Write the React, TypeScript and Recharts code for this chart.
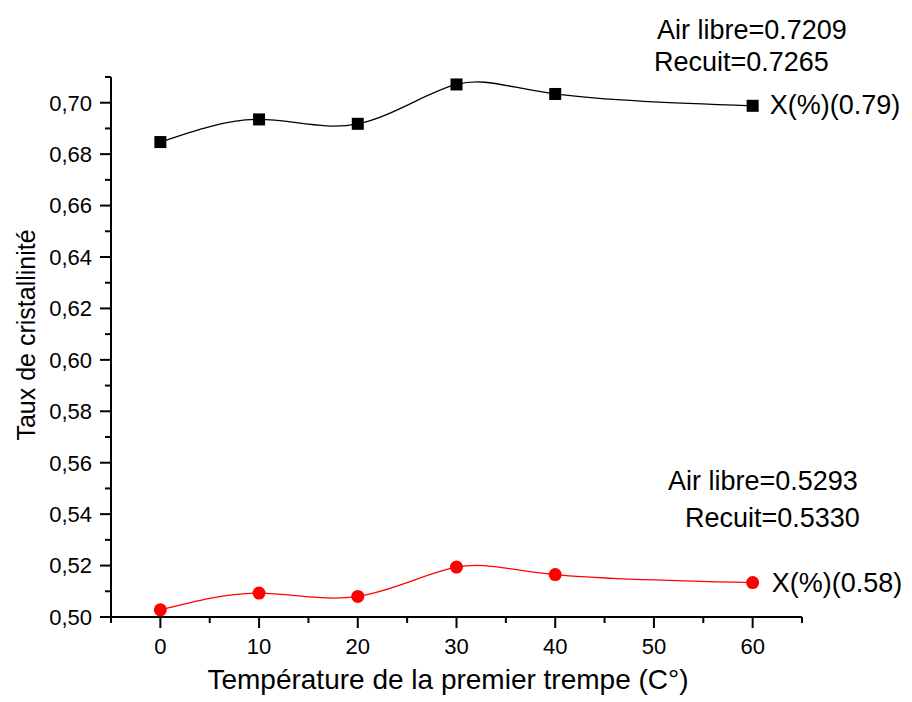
import { LineChart, Line, XAxis, YAxis, LabelList, Label } from 'recharts';

// Température de la premier trempe (°C)
const TEMPS = [0, 10, 20, 30, 40, 60];
// Taux de cristallinité, série X(%)(0.79) (carrés noirs)
const X_079 = [0.6847, 0.6935, 0.6918, 0.7071, 0.7034, 0.6988];
// Taux de cristallinité, série X(%)(0.58) (cercles rouges)
const X_058 = [0.5028, 0.5093, 0.508, 0.5194, 0.5165, 0.5134];

const SERIES_NAMES = ['X(%)(0.79)', 'X(%)(0.58)'];
const NOTES_079 = ['Air libre=0.7209', 'Recuit=0.7265'];
const NOTES_058 = ['Air libre=0.5293', 'Recuit=0.5330'];

const X_TICKS = [-5, 0, 5, 10, 15, 20, 25, 30, 35, 40, 45, 50, 55, 60, 65];
const Y_TICKS = [
  0.5, 0.51, 0.52, 0.53, 0.54, 0.55, 0.56, 0.57, 0.58, 0.59, 0.6,
  0.61, 0.62, 0.63, 0.64, 0.65, 0.66, 0.67, 0.68, 0.69, 0.7, 0.71,
];

const data = TEMPS.map((t, i) => ({ t, a: X_079[i], b: X_058[i] }));

const FONT = '"Liberation Sans", Arial, sans-serif';

// eslint-disable-next-line @typescript-eslint/no-explicit-any
function YTick({ x, y, payload }: any) {
  const v = payload.value as number;
  const major = Math.round(v * 100) % 2 === 0;
  return (
    <g>
      <line x1={x} x2={x - (major ? 11 : 6)} y1={y} y2={y} stroke="#000" strokeWidth={2} />
      {major && (
        <text x={x - 19} y={y} dy="0.36em" textAnchor="end" fontSize={22} fontFamily={FONT} fill="#000">
          {v.toFixed(2).replace('.', ',')}
        </text>
      )}
    </g>
  );
}

// eslint-disable-next-line @typescript-eslint/no-explicit-any
function XTick({ x, y, payload }: any) {
  const v = payload.value as number;
  const major = v % 10 === 0;
  const labelled = major && v >= 0 && v <= 60;
  return (
    <g>
      <line x1={x} x2={x} y1={y} y2={y + (major ? 11 : 6)} stroke="#000" strokeWidth={2} />
      {labelled && (
        <text x={x} y={y + 37} textAnchor="middle" fontSize={22} fontFamily={FONT} fill="#000">
          {v}
        </text>
      )}
    </g>
  );
}

// eslint-disable-next-line @typescript-eslint/no-explicit-any
function squareDot(props: any) {
  const { cx, cy, index } = props;
  return <rect key={`sq-${index}`} x={cx - 6} y={cy - 6} width={12} height={12} fill="#000" />;
}

function endLabel(name: string, dx: number, dy: number) {
  // eslint-disable-next-line @typescript-eslint/no-explicit-any
  return (p: any) =>
    p.index === TEMPS.length - 1 ? (
      <text x={Number(p.x) + dx} y={Number(p.y) + dy} fontSize={27} fontFamily={FONT} fill="#000">
        {name}
      </text>
    ) : null;
}

export default function App() {
  return (
    <div style={{ position: 'absolute', left: 0, top: 0, width: 912, height: 702, background: '#fff' }}>
      <LineChart width={912} height={702} data={data} margin={{ top: 77, right: 110, bottom: 25, left: 0 }}>
        <XAxis
          dataKey="t"
          type="number"
          domain={[-5, 65]}
          ticks={X_TICKS}
          interval={0}
          height={60}
          tickSize={0}
          tickMargin={0}
          tickLine={false}
          axisLine={{ stroke: '#000', strokeWidth: 2 }}
          tick={<XTick />}
        >
          <Label
            content={() => (
              <text x={448} y={689} textAnchor="middle" fontSize={28} fontFamily={FONT} fill="#000">
                Température de la premier trempe (C°)
              </text>
            )}
          />
        </XAxis>
        <YAxis
          type="number"
          domain={[0.5, 0.71]}
          ticks={Y_TICKS}
          interval={0}
          width={111}
          tickSize={0}
          tickMargin={0}
          tickLine={false}
          axisLine={{ stroke: '#000', strokeWidth: 2 }}
          tick={<YTick />}
        >
          <Label
            content={() => (
              <text x={35} y={335} transform="rotate(-90 35 335)" textAnchor="middle" fontSize={25} fontFamily={FONT} fill="#000">
                Taux de cristallinité
              </text>
            )}
          />
        </YAxis>
        <Line
          dataKey="a"
          type="natural"
          stroke="#000"
          strokeWidth={1.3}
          dot={squareDot}
          isAnimationActive={false}
        >
          <LabelList dataKey="a" content={endLabel(SERIES_NAMES[0], 17, 8)} />
        </Line>
        <Line
          dataKey="b"
          type="natural"
          stroke="#ff0000"
          strokeWidth={1.3}
          dot={{ r: 6.5, fill: '#ff0000', stroke: '#ff0000', strokeWidth: 0 }}
          isAnimationActive={false}
        >
          <LabelList dataKey="b" content={endLabel(SERIES_NAMES[1], 19, 9)} />
        </Line>
        <text x={657} y={39} fontSize={27} fontFamily={FONT} fill="#000">{NOTES_079[0]}</text>
        <text x={654} y={71} fontSize={27} fontFamily={FONT} fill="#000">{NOTES_079[1]}</text>
        <text x={668} y={490} fontSize={27} fontFamily={FONT} fill="#000">{NOTES_058[0]}</text>
        <text x={685} y={527} fontSize={27} fontFamily={FONT} fill="#000">{NOTES_058[1]}</text>
      </LineChart>
    </div>
  );
}
